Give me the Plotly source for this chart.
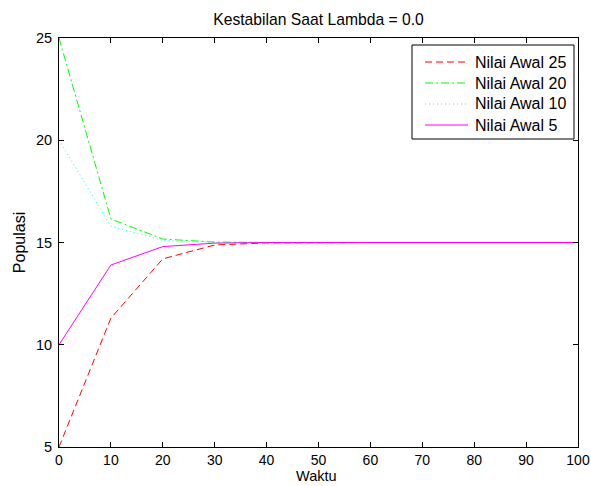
import plotly.graph_objects as go

waktu = [0, 10, 20, 30, 40, 50, 60, 70, 80, 90, 100]
awal25 = [5, 11.3, 14.2, 14.88, 14.98, 15, 15, 15, 15, 15, 15]
awal20 = [25, 16.15, 15.17, 15.02, 15.0, 15, 15, 15, 15, 15, 15]
awal10 = [20, 15.8, 15.1, 15.01, 15.0, 15, 15, 15, 15, 15, 15]
awal5 = [10, 13.9, 14.8, 14.97, 15.0, 15, 15, 15, 15, 15, 15]
labels = ["Nilai Awal 25", "Nilai Awal 20", "Nilai Awal 10", "Nilai Awal 5"]
xticks = [0, 10, 20, 30, 40, 50, 60, 70, 80, 90, 100]
yticks = [5, 10, 15, 20, 25]

FONT = "Liberation Sans, Arial, sans-serif"
colors = ["#ff0000", "#00ff00", "#00ffff", "#ff00ff"]
dashes = ["7px,4px", "8px,3px,2px,3px", "1px,3px", "solid"]
series = [awal25, awal20, awal10, awal5]

# plot area in pixels
L, R, T, B = 59, 578, 38, 447
W, H = 591, 486

def px2x(px):
    return (px - L) / (R - L)

def py2y(py):
    return (B - py) / (B - T)

fig = go.Figure()
for ys, lab, c, d in zip(series, labels, colors, dashes):
    fig.add_trace(go.Scatter(x=waktu, y=ys, mode="lines", name=lab,
                             line=dict(color=c, width=1, dash=d)))

axis_common = dict(showgrid=False, zeroline=False, showline=True, linecolor="black",
                   linewidth=1, mirror="allticks", ticks="inside", ticklen=5,
                   tickcolor="black", automargin=False)

# legend drawn as a box with line samples and labels
shapes = [dict(type="rect", xref="paper", yref="paper",
               x0=px2x(412), x1=px2x(574), y0=py2y(139), y1=py2y(45),
               line=dict(color="black", width=1), fillcolor="white", layer="above")]
annotations = []
rows = [62, 83, 104, 125]
for lab, c, d, ry in zip(labels, colors, dashes, rows):
    shapes.append(dict(type="line", xref="paper", yref="paper",
                       x0=px2x(425), x1=px2x(468), y0=py2y(ry), y1=py2y(ry),
                       line=dict(color=c, width=1, dash=d), layer="above"))
    annotations.append(dict(text=lab, xref="paper", yref="paper",
                            x=px2x(473), y=py2y(ry), xanchor="left", yanchor="middle",
                            showarrow=False, font=dict(family=FONT, size=16, color="black")))

# x-axis title placed as text below the tick labels
annotations.append(dict(text="Waktu", xref="paper", yref="paper",
                        x=px2x(316.5), y=py2y(486), xanchor="center", yanchor="bottom",
                        showarrow=False, font=dict(family=FONT, size=14.5, color="black")))

fig.update_layout(
    width=W, height=H,
    margin=dict(l=L, r=W - R, t=T, b=H - B),
    paper_bgcolor="white", plot_bgcolor="white",
    font=dict(family=FONT, size=16, color="black"),
    title=dict(text="Kestabilan Saat Lambda = 0.0", x=0.5, xref="paper",
               y=1 - 20 / H, yref="container", yanchor="middle",
               font=dict(family=FONT, size=15.7, color="black")),
    xaxis=dict(range=[0, 100], tickvals=xticks, ticklabelstandoff=0,
               tickfont=dict(family=FONT, size=14, color="black"), **axis_common),
    yaxis=dict(range=[5, 25], tickvals=yticks, ticklabelstandoff=3,
               tickfont=dict(family=FONT, size=14.5, color="black"),
               title=dict(text="Populasi", standoff=6, font=dict(size=16)), **axis_common),
    shapes=shapes,
    annotations=annotations,
    showlegend=False,
)

fig.write_html("out.html")
